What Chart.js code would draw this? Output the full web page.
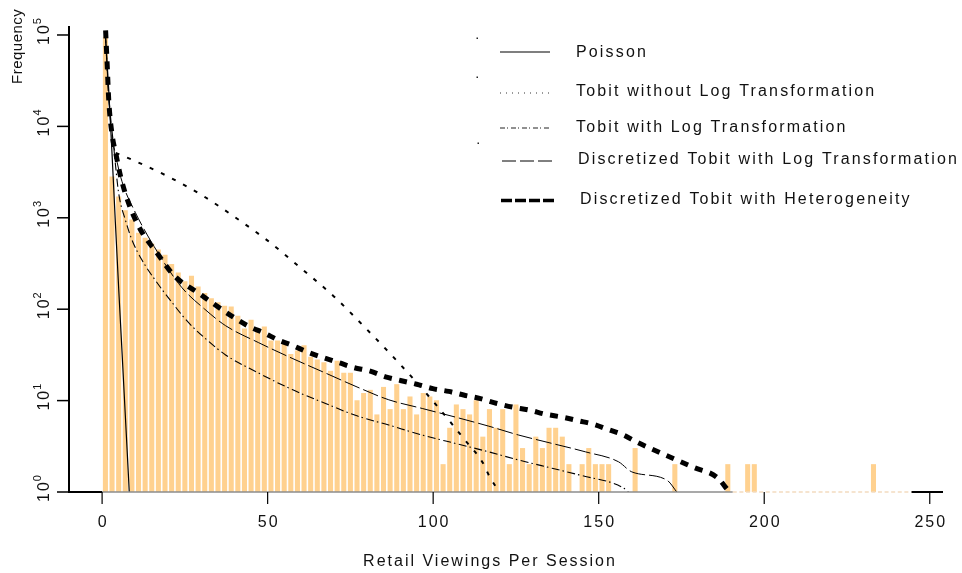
<!DOCTYPE html>
<html>
<head>
<meta charset="utf-8">
<script src="https://cdn.jsdelivr.net/npm/chart.js@4.4.0/dist/chart.umd.min.js"></script>
<style>
html, body { margin: 0; padding: 0; background: #fff; }
</style>
</head>
<body>
<canvas id="myChart" width="962" height="573"></canvas>
<script>
/* histogram: bins of width 2, centred on odd values */
var bar_x = [1, 3, 5, 7, 9, 11, 13, 15, 17, 19, 21, 23, 25, 27, 29, 31, 33, 35, 37, 39,
	41, 43, 45, 47, 49, 51, 53, 55, 57, 59, 61, 63, 65, 67, 69, 71, 73, 75, 77, 79,
	81, 83, 85, 87, 89, 91, 93, 95, 97, 99, 101, 103, 105, 107, 109, 111, 113, 115, 117, 119,
	121, 123, 125, 127, 129, 131, 133, 135, 137, 139, 141, 145, 147, 149, 151, 153, 161, 173, 189, 195,
	197, 233];
var bar_count = [95000, 2800, 1700, 1200, 950, 680, 600, 520, 445, 390, 310, 250, 200, 230, 176, 149, 131, 118, 108, 106,
	84, 61, 76, 61, 64, 45, 45, 44, 32, 35, 40, 30, 28, 26, 21, 27, 20, 20, 10, 12,
	13, 7, 14, 8, 15, 8, 11, 7, 12, 11, 10, 2, 5, 9, 8, 7, 10, 4, 8, 5,
	8, 2, 9, 3, 2, 4, 3, 5, 5, 4, 2, 2, 3, 2, 2, 2, 3, 2, 2, 2,
	2, 2];

/* fitted curves */
var poisson_x = [1, 2, 3, 4, 5, 6, 7, 8, 9];
var poisson_y = [100000, 25000, 5000, 900, 170, 35, 7, 1.4, 0.25];

var tobit_x = [4.1, 10, 20, 30, 40, 50, 60, 70, 80, 90, 100, 110, 115, 117, 120];
var tobit_y = [5130, 4170, 2820, 1780, 1023, 562, 282, 138, 60, 25, 9.8, 3.55, 2.09, 1.48, 1];

var tobitlog_x = [1, 2, 3.5, 5, 7, 9, 12, 16, 21, 26, 32, 37.3, 47.3, 57.4, 67.5, 76.5, 86.6, 96.7, 106.7, 116.8,
	125.8, 135.9, 146, 154, 157.6, 159];
var tobitlog_y = [100000, 22000, 6000, 1860, 955, 575, 347, 209, 120, 72, 45, 31.6, 20, 13.2, 9.3, 6.9, 5.4, 4.2, 3.4, 2.75,
	2.24, 1.82, 1.48, 1.26, 1.1, 1];

var disc_x = [1, 2, 3, 4, 6, 10, 17, 24, 31, 37.3, 47.3, 57.4, 67.5, 77, 86.6, 96.7, 106.7, 116.8, 125.8, 135.9,
	146, 156, 160, 170.6, 173.6];
var disc_y = [100000, 20000, 8000, 5000, 2500, 1150, 407, 174, 100, 66, 43, 29, 20, 14.1, 10.2, 8.2, 6.6, 5.25, 4.2, 3.4,
	2.75, 2.14, 1.66, 1.35, 1];

var het_x = [1.06, 1.6, 2, 3.1, 4.1, 5.6, 8, 11.6, 16.7, 21.7, 29, 40.3, 44.3, 48.9, 53.2, 57.6, 62, 66.8, 71.5, 76,
	81, 85.6, 90.1, 95, 99.9, 104.7, 109.2, 114.3, 119.3, 123.9, 128.9, 133.9, 138.9, 144, 148.5, 153, 157.5, 161.6, 165.6, 178.7,
	185.7, 189];
var het_y = [112000, 41700, 19500, 7760, 5130, 2820, 1445, 741, 407, 234, 151, 79, 65, 55, 46, 40, 34, 29.5, 26, 23,
	21, 18.2, 16.6, 15.1, 13.5, 12.6, 11.5, 10.5, 9.3, 8.5, 7.9, 7.1, 6.6, 6.0, 5.5, 4.8, 4.2, 3.5, 3.0, 1.86,
	1.45, 1.05];

var x_ticks = [0, 50, 100, 150, 200, 250];
var y_ticks = [1, 10, 100, 1000, 10000, 100000];
var y_exps = ['0', '1', '2', '3', '4', '5'];

var legend_labels = ['Poisson', 'Tobit without Log Transformation', 'Tobit with Log Transformation',
	'Discretized Tobit with Log Transformation', 'Discretized Tobit with Heterogeneity'];

var FONT = '"Liberation Sans", Arial, sans-serif';

function pts(xs, ys) {
	return xs.map(function (v, i) { return { x: v, y: ys[i] }; });
}

function lineSet(label, xs, ys, width, dash, order) {
	return {
		type: 'line',
		label: label,
		data: pts(xs, ys),
		borderColor: '#000',
		borderWidth: width,
		borderDash: dash,
		borderCapStyle: 'butt',
		pointRadius: 0,
		fill: false,
		cubicInterpolationMode: 'monotone',
		order: order
	};
}

function txt(ctx, s, x, y, size, spacing, align) {
	ctx.font = size + 'px ' + FONT;
	ctx.letterSpacing = spacing + 'px';
	ctx.textAlign = align || 'left';
	ctx.fillText(s, x, y);
}

function seg(ctx, x1, y1, x2, y2, width, color, dash) {
	ctx.beginPath();
	ctx.lineWidth = width;
	ctx.strokeStyle = color;
	ctx.setLineDash(dash || []);
	ctx.moveTo(x1, y1);
	ctx.lineTo(x2, y2);
	ctx.stroke();
	ctx.setLineDash([]);
}

/* axes, ticks, labels and the legend, drawn the way the original plot has them */
var decor = {
	id: 'decor',
	afterDraw: function (chart) {
		var ctx = chart.ctx;
		var xs = chart.scales.x;
		var ys = chart.scales.y;
		var a = chart.chartArea;
		var yb = a.bottom;

		ctx.save();
		ctx.fillStyle = '#111';
		ctx.textBaseline = 'alphabetic';

		/* baseline */
		seg(ctx, a.left, yb, xs.getPixelForValue(0), yb, 2, '#000');
		seg(ctx, xs.getPixelForValue(0), yb, xs.getPixelForValue(190.5), yb, 1.5, '#8c8c8c');
		seg(ctx, xs.getPixelForValue(190.5), yb, xs.getPixelForValue(244.5), yb, 1.5, '#f3dcc0', [4, 2.6]);
		seg(ctx, xs.getPixelForValue(244.5), yb, a.right, yb, 2, '#000');

		/* y axis */
		seg(ctx, a.left, a.top, a.left, yb + 1, 2, '#000');
		y_ticks.forEach(function (v, i) {
			var py = ys.getPixelForValue(v);
			seg(ctx, a.left - 12, py, a.left, py, 1.5, '#000');
			ctx.save();
			ctx.translate(48.5, py + 10);
			ctx.rotate(-Math.PI / 2);
			txt(ctx, '10', 0, 0, 16, 2);
			var w = ctx.measureText('10').width;
			txt(ctx, y_exps[i], w - 1, -8, 11, 1);
			ctx.restore();
		});

		/* x ticks */
		x_ticks.forEach(function (v) {
			var px = xs.getPixelForValue(v);
			seg(ctx, px, yb, px, yb + 12, 1.2, '#000');
			txt(ctx, String(v), px + 1, 527, 16, 2, 'center');
		});

		/* titles */
		txt(ctx, 'Retail Viewings Per Session', 490, 566, 16, 2, 'center');
		ctx.save();
		ctx.translate(22, 84);
		ctx.rotate(-Math.PI / 2);
		txt(ctx, 'Frequency', 0, 0, 15, 0.5);
		ctx.restore();

		/* legend */
		var rows = [
			{ y: 52, ty: 53, tx: 576, x1: 500, x2: 550, w: 1.2, dash: [], color: '#000' },
			{ y: 93, ty: 92, tx: 576, x1: 500, x2: 550, w: 1, dash: [1, 5], color: '#333' },
			{ y: 128, ty: 127.5, tx: 576, x1: 500, x2: 551, w: 1, dash: [5, 2, 1, 3], color: '#222' },
			{ y: 161, ty: 160, tx: 578, x1: 502, x2: 552, w: 1, dash: [14, 4], color: '#000' },
			{ y: 200.5, ty: 199.5, tx: 580, x1: 501, x2: 555, w: 3.5, dash: [11, 3], color: '#000' }
		];
		ctx.textBaseline = 'middle';
		rows.forEach(function (r, i) {
			seg(ctx, r.x1, r.y, r.x2, r.y, r.w, r.color, r.dash);
			txt(ctx, legend_labels[i], r.tx, r.ty, 16, 2.15);
		});
		ctx.fillStyle = '#222';
		ctx.fillRect(476.5, 37.5, 1.5, 1.5);
		ctx.fillRect(476.5, 76.5, 1.5, 1.5);
		ctx.fillRect(477.5, 142.5, 1.5, 1.5);
		ctx.restore();
	}
};

var ctx = document.getElementById('myChart').getContext('2d');
var chart = new Chart(ctx, {
	type: 'bar',
	data: {
		datasets: [
			lineSet(legend_labels[0], poisson_x, poisson_y, 1.2, [], 1),
			lineSet(legend_labels[1], tobit_x, tobit_y, 2, [4, 8.4], 2),
			lineSet(legend_labels[2], tobitlog_x, tobitlog_y, 1.1, [8, 3, 1.5, 3.5], 3),
			lineSet(legend_labels[3], disc_x, disc_y, 1, [16, 4], 4),
			lineSet(legend_labels[4], het_x, het_y, 5, [8, 7.5], 0),
			{
				type: 'bar',
				label: 'Observed',
				data: pts(bar_x, bar_count),
				backgroundColor: '#FFD18F',
				borderWidth: 0,
				barThickness: 4.4,
				order: 10
			}
		]
	},
	options: {
		responsive: false,
		animation: false,
		layout: { padding: { left: 0, right: 19, top: 26, bottom: 0 } },
		plugins: {
			legend: { display: false },
			tooltip: { enabled: false }
		},
		scales: {
			x: {
				type: 'linear',
				min: -10,
				max: 254,
				offset: false,
				grid: { display: false },
				border: { display: false },
				ticks: { display: false },
				afterBuildTicks: function (s) { s.ticks = x_ticks.map(function (v) { return { value: v }; }); },
				afterFit: function (s) { s.height = 81; }
			},
			y: {
				type: 'logarithmic',
				min: 1,
				max: 125400,
				grid: { display: false },
				border: { display: false },
				ticks: { display: false },
				afterBuildTicks: function (s) { s.ticks = y_ticks.map(function (v) { return { value: v }; }); },
				afterFit: function (s) { s.width = 69; }
			}
		}
	},
	plugins: [decor]
});
</script>
</body>
</html>
